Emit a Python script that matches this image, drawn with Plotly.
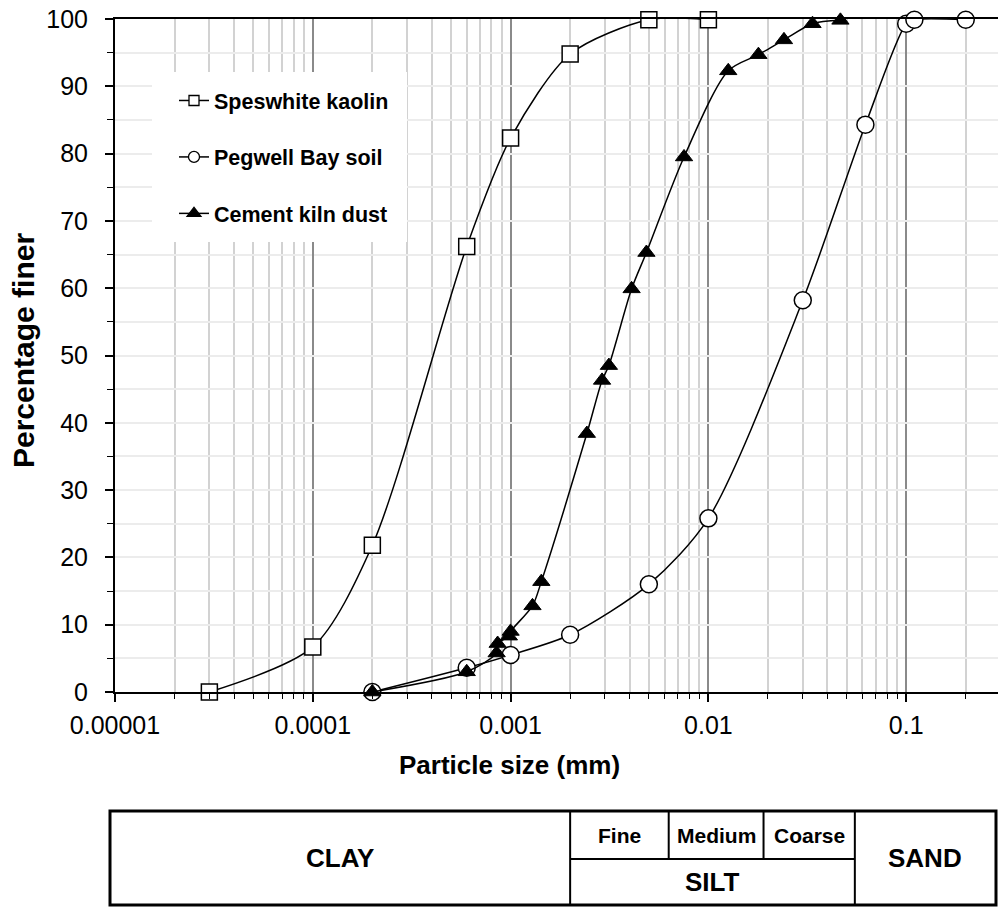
import math
import plotly.graph_objects as go

# ---------------- data ----------------
kaolin_d = [0.00003, 0.0001, 0.0002, 0.0006, 0.001, 0.002, 0.005, 0.01]
kaolin_p = [0.0, 6.7, 21.8, 66.2, 82.3, 94.8, 99.9, 99.9]

pegwell_d = [0.0002, 0.0006, 0.001, 0.002, 0.005, 0.01, 0.03, 0.0622, 0.1, 0.11, 0.2]
pegwell_p = [0.0, 3.6, 5.5, 8.5, 16.0, 25.8, 58.2, 84.3, 99.3, 99.9, 99.9]

cement_d = [0.0002, 0.0006, 0.00085, 0.00086, 0.00098, 0.001, 0.00129, 0.00143,
            0.00243, 0.0029, 0.00314, 0.00409, 0.00486, 0.00753, 0.0126,
            0.0179, 0.0241, 0.0336, 0.0465]
cement_p = [0.0, 3.0, 5.8, 7.2, 8.3, 9.0, 12.8, 16.4, 38.4, 46.3, 48.5, 59.9,
            65.3, 79.5, 92.3, 94.7, 96.9, 99.3, 99.8]

x_tickvals = [0.00001, 0.0001, 0.001, 0.01, 0.1]
x_ticktext = ["0.00001", "0.0001", "0.001", "0.01", "0.1"]

# soil classification boundaries (mm) as drawn in the band below the chart
band_bounds = [0.002, 0.0063, 0.019, 0.055]
silt_sub = ["Fine", "Medium", "Coarse"]

FONT = "Liberation Sans, Arial, sans-serif"

# ---------------- geometry ----------------
W, H = 998, 909
L, T = 115, 19
PLOT_BOTTOM = 692
R = 0
B = H - PLOT_BOTTOM
pw = W - L - R
ph = PLOT_BOTTOM - T
DECADE = 197.8


def px_x(px):
    return (px - L) / pw


def px_y(py):
    return (PLOT_BOTTOM - py) / ph


fig = go.Figure()

common = dict(mode="lines+markers",
              line=dict(color="black", width=1.5, shape="spline", smoothing=0.8),
              cliponaxis=False, showlegend=False)

series = [
    ("Speswhite kaolin", kaolin_d, kaolin_p, "square", 16, 10, "white"),
    ("Pegwell Bay soil", pegwell_d, pegwell_p, "circle", 17, 11, "white"),
    ("Cement kiln dust", cement_d, cement_p, "triangle-up", 15, 12, "black"),
]

for i, (name, xd, yd, sym, size, lsize, fill) in enumerate(series):
    fig.add_trace(go.Scatter(x=xd, y=yd, name=name, legendgroup=str(i),
                             marker=dict(symbol=sym, size=size, color=fill,
                                         line=dict(color="black", width=1.5 if fill == "white" else 1)),
                             **common))
for i, (name, xd, yd, sym, size, lsize, fill) in enumerate(series):
    # legend-only entry with the smaller legend symbol
    fig.add_trace(go.Scatter(x=[None], y=[None], name=name, legendgroup=str(i),
                             mode="lines+markers", showlegend=True,
                             line=dict(color="black", width=1.5),
                             marker=dict(symbol=sym, size=lsize, color=fill,
                                         line=dict(color="black", width=1.3))))

xmax_log = -5 + (W - L) / DECADE

fig.update_xaxes(type="log", range=[-5, xmax_log],
                 tickmode="array", tickvals=x_tickvals, ticktext=x_ticktext,
                 showgrid=True, gridcolor="#8a8a8a", gridwidth=1.5,
                 ticks="outside", ticklen=8, tickwidth=1.5, tickcolor="black",
                 ticklabelstandoff=2,
                 showline=True, linecolor="black", linewidth=2, mirror=True,
                 tickfont=dict(family=FONT, size=25, color="black"),
                 minor=dict(dtick="D1", showgrid=True, gridcolor="#d2d2d2", gridwidth=1.5,
                            ticks="outside", ticklen=5, tickwidth=1.2, tickcolor="black"),
                 zeroline=False)
fig.update_yaxes(range=[0, 100], dtick=10, tick0=0,
                 showgrid=True, gridcolor="#ececec", gridwidth=1.5,
                 ticks="outside", ticklen=8, tickwidth=1.5, tickcolor="black",
                 ticklabelstandoff=12,
                 showline=True, linecolor="black", linewidth=2,
                 tickfont=dict(family=FONT, size=25, color="black"),
                 minor=dict(dtick=5, showgrid=True, gridcolor="#ececec", gridwidth=1.5,
                            ticks="outside", ticklen=6, tickwidth=1.2, tickcolor="black"),
                 zeroline=False)

shapes = []
# white legend box
shapes.append(dict(type="rect", xref="paper", yref="paper", layer="above",
                   x0=px_x(152), x1=px_x(407), y0=px_y(242), y1=px_y(72),
                   fillcolor="white", line=dict(width=0)))

# classification band (below plot)
band_top, band_mid, band_bot = px_y(811), px_y(859), px_y(905)
band_left, band_right = px_x(110), px_x(996)
for i, b in enumerate(band_bounds):
    full = (i == 0 or i == len(band_bounds) - 1)
    shapes.append(dict(type="line", xref="x", yref="paper", x0=b, x1=b,
                       y0=band_bot if full else band_mid, y1=band_top,
                       line=dict(color="black", width=2)))
shapes.append(dict(type="line", xref="x", yref="paper", x0=band_bounds[0], x1=band_bounds[-1],
                   y0=band_mid, y1=band_mid, line=dict(color="black", width=2)))
shapes.append(dict(type="rect", xref="paper", yref="paper",
                   x0=band_left, x1=band_right, y0=band_bot, y1=band_top,
                   line=dict(color="black", width=3)))

annotations = []
lbl_big = dict(family=FONT, size=26, color="black")
lbl_small = dict(family=FONT, size=21, color="black")
yc_full = (band_top + band_bot) / 2
yc_top = (band_top + band_mid) / 2
yc_bot = (band_mid + band_bot) / 2
lb = [math.log10(v) for v in band_bounds]
ctr = dict(showarrow=False, xanchor="center", yanchor="middle")

annotations.append(dict(xref="paper", yref="paper",
                        x=(band_left + (lb[0] + 5) * DECADE / pw) / 2,
                        y=yc_full, text="<b>CLAY</b>", font=lbl_big, **ctr))
annotations.append(dict(xref="x", yref="paper", x=(lb[0] + lb[-1]) / 2, y=yc_bot,
                        text="<b>SILT</b>", font=lbl_big, **ctr))
annotations.append(dict(xref="paper", yref="paper",
                        x=((lb[-1] + 5) * DECADE / pw + band_right) / 2,
                        y=yc_full, text="<b>SAND</b>", font=lbl_big, **ctr))
for i, name in enumerate(silt_sub):
    annotations.append(dict(xref="x", yref="paper", x=(lb[i] + lb[i + 1]) / 2, y=yc_top,
                            text="<b>%s</b>" % name, font=lbl_small, **ctr))

# axis titles
annotations.append(dict(xref="paper", yref="paper", x=px_x(509), y=px_y(765),
                        text="<b>Particle size (mm)</b>",
                        font=dict(family=FONT, size=26, color="black"), **ctr))
annotations.append(dict(xref="paper", yref="paper", x=px_x(23), y=px_y(351), textangle=-90,
                        text="<b>Percentage finer</b>",
                        font=dict(family=FONT, size=30, color="black"), **ctr))

fig.update_layout(
    width=W, height=H,
    margin=dict(l=L, r=R, t=T, b=B),
    paper_bgcolor="white", plot_bgcolor="white",
    shapes=shapes, annotations=annotations,
    showlegend=True,
    legend=dict(x=px_x(174), y=px_y(80), xanchor="left", yanchor="top",
                bgcolor="rgba(0,0,0,0)", tracegroupgap=25.5,
                font=dict(family=FONT, size=21.5, color="black", weight="bold")),
)

fig.write_html("out.html")
